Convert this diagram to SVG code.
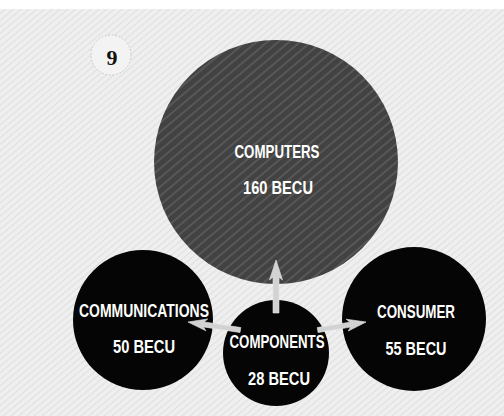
<svg xmlns="http://www.w3.org/2000/svg" width="504" height="416" viewBox="0 0 504 416">
  <defs>
    <pattern id="bg" width="5" height="5" patternUnits="userSpaceOnUse" patternTransform="rotate(-40)">
      <rect width="5" height="5" fill="#efefef"/>
      <rect width="5" height="1.2" fill="#e0e0e0"/>
    </pattern>
    <pattern id="dark" width="7" height="7" patternUnits="userSpaceOnUse" patternTransform="rotate(-40)">
      <rect width="7" height="7" fill="#424242"/>
      <rect width="7" height="2" fill="#575757"/>
    </pattern>
    <style>
      .node-dark { fill: #050505; }
      .lbl { font-family: "Liberation Sans Narrow", "Liberation Sans", Arial, sans-serif; font-weight: bold; font-size: 19px; fill: #ffffff; text-anchor: middle; }
      .arrow { fill: #d2d2d2; stroke: #e6e6e6; stroke-width: 0.6; }
    </style>
  </defs>

  <rect width="504" height="416" fill="url(#bg)"/>
  <rect width="504" height="9" fill="#ffffff"/>

  <g id="badge">
    <circle cx="111" cy="55" r="20" fill="#f3f3f3" stroke="#b5b5b5" stroke-width="0.8" stroke-dasharray="1.5 2"/>
    <text x="112" y="65" font-family="Liberation Serif, serif" font-weight="bold" font-size="22" fill="#111111" text-anchor="middle">9</text>
  </g>

  <g id="computers">
    <circle cx="276" cy="162" r="122" fill="url(#dark)"/>
    <text class="lbl" x="277" y="158" textLength="85" lengthAdjust="spacingAndGlyphs">COMPUTERS</text>
    <text class="lbl" x="278" y="194" textLength="70" lengthAdjust="spacingAndGlyphs">160 BECU</text>
  </g>

  <g id="communications">
    <circle class="node-dark" cx="143" cy="320" r="70"/>
    <text class="lbl" x="144" y="317" textLength="130" lengthAdjust="spacingAndGlyphs">COMMUNICATIONS</text>
    <text class="lbl" x="144" y="353" textLength="62" lengthAdjust="spacingAndGlyphs">50 BECU</text>
  </g>

  <g id="consumer">
    <circle class="node-dark" cx="414" cy="319" r="72"/>
    <text class="lbl" x="416" y="318" textLength="78" lengthAdjust="spacingAndGlyphs">CONSUMER</text>
    <text class="lbl" x="416" y="355" textLength="61" lengthAdjust="spacingAndGlyphs">55 BECU</text>
  </g>

  <g id="components">
    <circle class="node-dark" cx="276" cy="353" r="53"/>
    <text class="lbl" x="277" y="348" textLength="95" lengthAdjust="spacingAndGlyphs">COMPONENTS</text>
    <text class="lbl" x="279" y="385" textLength="62" lengthAdjust="spacingAndGlyphs">28 BECU</text>
  </g>

  <g id="connectors">
    <path class="arrow" transform="translate(276,260) rotate(-90)" d="M0,0 L-20,-6.5 L-17,-3 L-53,-3 L-53,3 L-17,3 L-20,6.5 Z"/>
    <path class="arrow" transform="translate(188,322) rotate(188.7)" d="M0,0 L-19,-6 L-16,-2.5 L-53,-2.5 L-53,2.5 L-16,2.5 L-19,6 Z"/>
    <path class="arrow" transform="translate(366,322) rotate(-9.5)" d="M0,0 L-19,-6 L-16,-2.5 L-49,-2.5 L-49,2.5 L-16,2.5 L-19,6 Z"/>
  </g>
</svg>
